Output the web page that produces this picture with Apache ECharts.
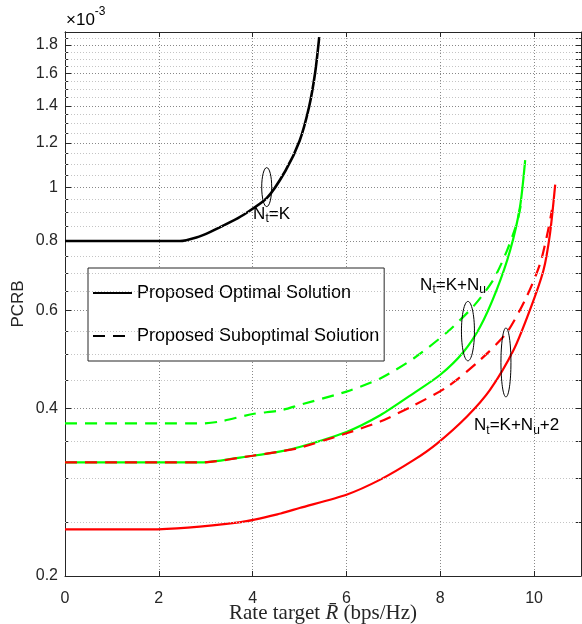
<!DOCTYPE html>
<html>
<head>
<meta charset="utf-8">
<script src="https://cdn.jsdelivr.net/npm/echarts@6/dist/echarts.min.js"></script>
<style>
  html, body { margin: 0; padding: 0; background: #fff; }
  #chart { width: 582px; height: 624px; }
</style>
</head>
<body>
<div id="chart"></div>
<script>
// PCRB (x1e-3) against rate target (bps/Hz)
const optK = [[0, 0.80], [1, 0.80], [2, 0.80], [2.45, 0.80], [2.8, 0.812], [3.1, 0.831], [3.5, 0.863],
  [3.8, 0.891], [4.3, 0.955], [4.7, 1.07], [5.0, 1.21], [5.2, 1.39], [5.33, 1.60], [5.42, 1.86]]
const optKNu = [[0, 0.320], [1, 0.320], [2, 0.320], [2.9, 0.320], [4.0, 0.329], [4.6, 0.335], [5.0, 0.341],
  [6.0, 0.363], [6.72, 0.389], [7.43, 0.426], [8.0, 0.460], [8.49, 0.505], [8.85, 0.561], [9.2, 0.653],
  [9.49, 0.77], [9.7, 0.922], [9.81, 1.118]]
const subKNu = [[0, 0.376], [1, 0.376], [2, 0.376], [2.9, 0.376], [3.3, 0.379], [4.0, 0.391], [4.6, 0.397],
  [5.0, 0.406], [6.0, 0.429], [6.72, 0.453], [7.43, 0.492], [8.14, 0.548], [8.71, 0.611], [9.13, 0.681],
  [9.42, 0.768], [9.63, 0.86], [9.72, 0.93]]
const optKNu2 = [[0, 0.2426], [1, 0.2426], [1.8, 0.2426], [3.75, 0.250], [4.6, 0.259], [5.0, 0.265],
  [6.0, 0.280], [6.72, 0.298], [7.43, 0.323], [7.93, 0.346], [8.57, 0.387], [9.06, 0.432], [9.56, 0.509],
  [9.91, 0.601], [10.2, 0.709], [10.34, 0.826], [10.45, 1.01]]
const subKNu2 = [[0, 0.320], [1, 0.320], [2, 0.320], [2.9, 0.320], [4.0, 0.329], [4.6, 0.335], [5.0, 0.340],
  [6.0, 0.361], [6.72, 0.379], [7.43, 0.405], [8.14, 0.437], [8.85, 0.489], [9.42, 0.548], [9.84, 0.635],
  [10.13, 0.729], [10.3, 0.837], [10.38, 0.91]]

const xTicks = [0, 2, 4, 6, 8, 10]
const yMajor = [0.2, 0.4, 0.6, 0.8, 1, 1.2, 1.4, 1.6, 1.8]
const yMinor = [0.25, 0.3, 0.35, 0.45, 0.5, 0.55, 0.65, 0.7, 0.75, 0.85, 0.9, 0.95, 1.05, 1.1, 1.15,
  1.25, 1.3, 1.35, 1.45, 1.5, 1.55, 1.65, 1.7, 1.75, 1.85]
const legendNames = ['Proposed Optimal Solution', 'Proposed Suboptimal Solution']

const FONT = 'Liberation Sans, Arial, sans-serif'
const TXT = '#262626'
const chart = echarts.init(document.getElementById('chart'))

const curve = (name, data, color, dashed, width) => ({
  name: name,
  type: 'line',
  data: data,
  symbol: 'none',
  smooth: 0.25,
  silent: true,
  z: 3,
  lineStyle: {color: color, width: width, type: dashed ? [12, 8] : 'solid'},
  itemStyle: {color: color}
})

const yAxisBase = {
  type: 'log',
  logBase: 10,
  min: 0.2,
  max: 1.9,
  splitLine: {show: false}
}
// label-less axes still get their labels "on" so the custom ticks are laid out
const blankLabels = vals => ({show: true, customValues: vals, formatter: () => '', color: 'rgba(0,0,0,0)'})

const option = {
  animation: false,
  grid: {left: 65, right: 1, top: 32, bottom: 48, outerBoundsMode: 'none'},
  legend: {
    data: legendNames.map(n => ({name: n})),
    orient: 'vertical',
    left: 88,
    top: 268,
    backgroundColor: '#fff',
    borderColor: TXT,
    borderWidth: 1,
    borderRadius: 0,
    padding: [16, 5, 16, 4],
    itemGap: 25,
    itemWidth: 39,
    itemHeight: 14,
    selectedMode: false,
    itemStyle: {color: 'rgba(0,0,0,0)', borderWidth: 0},
    textStyle: {fontSize: 18, color: '#000', fontFamily: FONT}
  },
  xAxis: [
    {
      type: 'value', min: 0, max: 11, position: 'bottom',
      name: 'Rate target {i|R\u0304} (bps/Hz)',
      nameLocation: 'middle', nameGap: 27, nameMoveOverlap: false,
      nameTextStyle: {fontFamily: 'Liberation Serif', fontSize: 21, color: TXT,
        rich: {i: {fontFamily: 'Liberation Serif', fontStyle: 'italic', fontSize: 21, color: TXT}}},
      axisLine: {lineStyle: {color: TXT, width: 1}},
      axisTick: {inside: true, length: 5, customValues: xTicks, lineStyle: {color: TXT}},
      axisLabel: {customValues: xTicks, fontSize: 16, color: TXT, fontFamily: FONT, margin: 15},
      splitLine: {show: true, lineStyle: {color: 'rgba(38,38,38,0.55)', type: [1, 2], width: 1}}
    },
    {
      type: 'value', min: 0, max: 11, position: 'top',
      axisLine: {onZero: false, lineStyle: {color: TXT, width: 1}},
      axisTick: {inside: true, length: 5, customValues: xTicks, lineStyle: {color: TXT}},
      axisLabel: blankLabels(xTicks),
      splitLine: {show: false}
    }
  ],
  yAxis: [
    Object.assign({}, yAxisBase, {
      position: 'left',
      name: 'PCRB', nameLocation: 'middle', nameGap: 38, nameRotate: 90, nameMoveOverlap: false,
      nameTextStyle: {fontSize: 17, color: TXT, fontFamily: FONT},
      axisLine: {show: true, lineStyle: {color: TXT, width: 1}},
      axisTick: {inside: true, length: 6, customValues: yMajor, lineStyle: {color: TXT}},
      axisLabel: {show: true, customValues: yMajor, fontSize: 16, color: TXT, fontFamily: FONT, margin: 7,
        formatter: v => String(Math.round(v * 10) / 10)},
      splitLine: {show: true, lineStyle: {color: 'rgba(38,38,38,0.55)', type: [1, 2], width: 1}}
    }),
    Object.assign({}, yAxisBase, {
      position: 'left',
      axisLine: {show: true, lineStyle: {color: TXT, width: 1}},
      axisTick: {inside: true, length: 3.5, customValues: yMinor, lineStyle: {color: TXT}},
      axisLabel: blankLabels(yMinor)
    }),
    Object.assign({}, yAxisBase, {
      position: 'right',
      axisLine: {show: true, lineStyle: {color: TXT, width: 1}},
      axisTick: {inside: true, length: 5, customValues: yMajor.concat(yMinor), lineStyle: {color: TXT}},
      axisLabel: blankLabels(yMajor.concat(yMinor))
    })
  ],
  series: [
    // minor grid lines
    {
      type: 'line', data: [], silent: true, z: 1, symbol: 'none',
      markLine: {
        silent: true, symbol: 'none', label: {show: false}, animation: false,
        lineStyle: {color: '#c4c4c4', type: [1, 2], width: 1},
        data: yMinor.map(v => ({yAxis: v}))
      }
    },
    curve('Nt=K', optK, '#000000', false, 2.6),
    curve('Nt=K+Nu', optKNu, '#00ff00', false, 2.2),
    curve('Nt=K+Nu sub', subKNu, '#00ff00', true, 2.2),
    curve('Nt=K+Nu+2', optKNu2, '#ff0000', false, 2.2),
    curve('Nt=K+Nu+2 sub', subKNu2, '#ff0000', true, 2.2),
    // legend only
    curve(legendNames[0], [], '#000000', false, 2.4),
    curve(legendNames[1], [], '#000000', true, 2.4)
  ]
}
chart.setOption(option)

// ellipses and labels marking the curve groups (data coords)
const marks = [
  {at: [4.3, 1.0], rx: 5, ry: 19.5, label: '{n|N}{s|t}{n|=K}', labelAt: [4.01, 0.894]},
  {at: [8.59, 0.551], rx: 6.5, ry: 29.7, label: '{n|N}{s|t}{n|=K+N}{s|u}', labelAt: [7.57, 0.667]},
  {at: [9.4, 0.484], rx: 5, ry: 34.5, label: '{n|N}{s|t}{n|=K+N}{s|u}{n|+2}', labelAt: [8.72, 0.373]}
]
const rich = {
  n: {fontSize: 17, fontFamily: FONT, color: '#000'},
  s: {fontSize: 12, fontFamily: FONT, color: '#000', padding: [10, 0, 0, 0]}
}
const toPx = p => chart.convertToPixel({xAxisIndex: 0, yAxisIndex: 0}, p)
const graphic = []
marks.forEach(m => {
  const c = toPx(m.at)
  graphic.push({
    type: 'ellipse', silent: true, z: 10,
    shape: {cx: c[0], cy: c[1], rx: m.rx, ry: m.ry},
    style: {fill: 'none', stroke: '#000', lineWidth: 1}
  })
  const t = toPx(m.labelAt)
  graphic.push({
    type: 'text', silent: true, z: 10, x: t[0], y: t[1],
    style: {text: m.label, rich: rich, verticalAlign: 'middle', align: 'left'}
  })
})
graphic.push({
  type: 'text', silent: true, x: 66, y: 3,
  style: {text: '{a|\u00d710}{b|-3}', rich: {
    a: {fontSize: 17, fontFamily: FONT, color: TXT, padding: [9, 0, 0, 0]},
    b: {fontSize: 12, fontFamily: FONT, color: TXT, padding: [0, 0, 8, 0]}
  }}
})
chart.setOption({graphic: graphic})
</script>
</body>
</html>
